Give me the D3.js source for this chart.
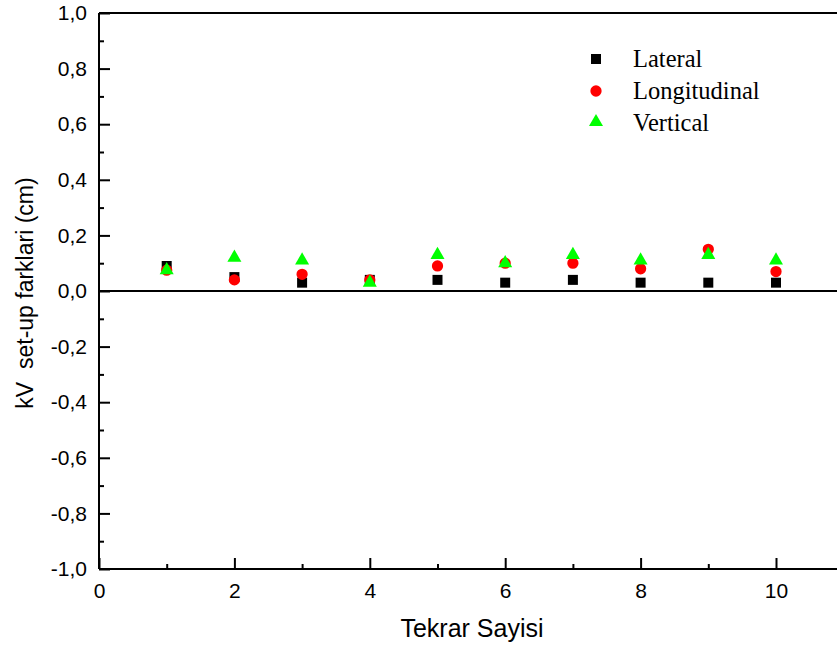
<!DOCTYPE html>
<html>
<head>
<meta charset="utf-8">
<script src="https://cdn.jsdelivr.net/npm/d3@7"></script>
<style>
  body { margin: 0; background: #fff; }
  svg text { font-family: Arial, "Liberation Sans", sans-serif; }
</style>
</head>
<body>
<div id="chart"></div>
<script>
// data
const tekrar = [1, 2, 3, 4, 5, 6, 7, 8, 9, 10];
const lateral = [0.09, 0.05, 0.03, 0.04, 0.04, 0.03, 0.04, 0.03, 0.03, 0.03];
const longitudinal = [0.075, 0.04, 0.06, 0.04, 0.09, 0.10, 0.10, 0.08, 0.15, 0.07];
const vertical = [0.075, 0.12, 0.11, 0.03, 0.13, 0.10, 0.13, 0.11, 0.13, 0.11];
const yTicks = [-1, -0.8, -0.6, -0.4, -0.2, 0, 0.2, 0.4, 0.6, 0.8, 1];
const xTicks = [0, 2, 4, 6, 8, 10];
const seriesNames = ["Lateral", "Longitudinal", "Vertical"];

const width = 837, height = 652;
const svg = d3.select("#chart").append("svg")
    .attr("width", width)
    .attr("height", height);

const x = d3.scaleLinear().domain([0, 10]).range([99, 776]);
const y = d3.scaleLinear().domain([-1, 1]).range([569, 13]);
const fmt = d => d3.format(".1f")(d).replace(".", ",").replace("−", "-");

// frame (right side runs off the picture)
const frame = svg.append("g").attr("stroke", "#000").attr("stroke-width", 2);
frame.append("line").attr("x1", x(0)).attr("x2", width + 5).attr("y1", y(1)).attr("y2", y(1));
frame.append("line").attr("x1", x(0)).attr("x2", width + 5).attr("y1", y(-1)).attr("y2", y(-1));
frame.append("line").attr("x1", x(0)).attr("x2", x(0)).attr("y1", y(1)).attr("y2", y(-1));
frame.append("line").attr("x1", x(0)).attr("x2", width + 5).attr("y1", y(0)).attr("y2", y(0));

// y axis, ticks pointing inward
const yAxis = d3.axisLeft(y).tickValues(yTicks).tickSize(-11).tickPadding(12).tickFormat(fmt);
const yMinor = d3.axisLeft(y).tickValues(d3.range(-9, 10, 2).map(v => v / 10)).tickSize(-5).tickFormat("");
svg.append("g").attr("transform", `translate(${x(0)},0)`).call(yAxis)
    .call(g => g.select(".domain").remove())
    .call(g => g.selectAll("line").attr("stroke-width", 2))
    .call(g => g.selectAll("text").attr("font-size", 21).attr("fill", "#000"));
svg.append("g").attr("transform", `translate(${x(0)},0)`).call(yMinor)
    .call(g => g.select(".domain").remove())
    .call(g => g.selectAll("line").attr("stroke-width", 2));

// x axis
const xAxis = d3.axisBottom(x).tickValues(xTicks).tickSize(-11).tickPadding(14);
const xMinor = d3.axisBottom(x).tickValues([1, 3, 5, 7, 9, 11]).tickSize(-5).tickFormat("");
svg.append("g").attr("transform", `translate(0,${y(-1)})`).call(xAxis)
    .call(g => g.select(".domain").remove())
    .call(g => g.selectAll("line").attr("stroke-width", 2))
    .call(g => g.selectAll("text").attr("font-size", 21).attr("fill", "#000"));
svg.append("g").attr("transform", `translate(0,${y(-1)})`).call(xMinor)
    .call(g => g.select(".domain").remove())
    .call(g => g.selectAll("line").attr("stroke-width", 2));

// axis titles
svg.append("text")
    .attr("x", 472).attr("y", 637)
    .attr("text-anchor", "middle").attr("font-size", 25)
    .text("Tekrar Sayisi");
svg.append("text")
    .attr("transform", `translate(33,293) rotate(-90)`)
    .attr("text-anchor", "middle").attr("font-size", 23)
    .attr("xml:space", "preserve")
    .text("kV  set-up farklari (cm)");

// markers
const square = d3.symbol().type(d3.symbolSquare).size(100);
const circle = d3.symbol().type(d3.symbolCircle).size(100);
const triangle = d3.symbol().type(d3.symbolTriangle).size(85);

const series = [
  { name: seriesNames[0], values: lateral, sym: square, color: "#000" },
  { name: seriesNames[1], values: longitudinal, sym: circle, color: "#ff0000" },
  { name: seriesNames[2], values: vertical, sym: triangle, color: "#00ff00" }
];

series.forEach(s => {
  svg.append("g").selectAll("path")
    .data(tekrar.map((t, i) => [t, s.values[i]]))
    .enter().append("path")
    .attr("d", s.sym())
    .attr("transform", d => `translate(${x(d[0])},${y(d[1])})`)
    .attr("fill", s.color);
});

// legend
const legend = svg.append("g").attr("transform", "translate(596,59)");
series.forEach((s, i) => {
  legend.append("path")
    .attr("d", s.sym())
    .attr("transform", `translate(0,${i * 32 - (i == 2 ? 1 : 0)})`)
    .attr("fill", s.color);
  legend.append("text")
    .attr("x", 37).attr("y", i * 32 + 8)
    .attr("font-size", 24.5)
    .style("font-family", "'Liberation Serif', 'Times New Roman', serif")
    .text(s.name);
});
</script>
</body>
</html>
